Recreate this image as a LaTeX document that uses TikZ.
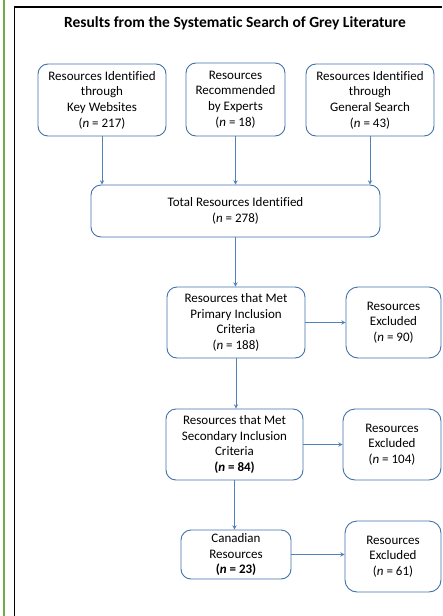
\documentclass[tikz,border=0pt]{standalone}
\usepackage{fontspec}
\setmainfont{Carlito}[Ligatures=NoCommon]
\usetikzlibrary{positioning}
\definecolor{boxblue}{RGB}{65,113,170}
\definecolor{arrowblue}{RGB}{79,129,189}
\definecolor{framegreen}{RGB}{112,173,71}

\begin{document}
\begin{tikzpicture}[x=1pt, y=-1pt, >=stealth,
    every node/.style={font=\fontsize{13}{15.7}\selectfont},
    flowbox/.style={draw=boxblue, line width=0.9pt, rounded corners=10pt, align=center, inner sep=0pt},
    flow/.style={->, draw=arrowblue, line width=0.9pt}]

    \useasboundingbox (0,0) rectangle (442,616);

    % page frame
    \draw[framegreen, line width=2pt] (4,0) -- (4,616);
    \draw[line width=1.3pt] (442,7) -- (14.5,7) -- (14.5,616);

    \node[font=\fontsize{15.5}{18}\selectfont\bfseries] (title) at (235,23) {Results from the Systematic Search of Grey Literature};

    % Top row nodes
    \node[flowbox, minimum width=128pt, minimum height=72pt] (keyweb) at (102,100)
        {Resources Identified\\through\\Key Websites\\(\textit{n} = 217)};
    \node[flowbox, minimum width=99pt, minimum height=73pt] (experts) at (235.5,99.5)
        {Resources\\Recommended\\by Experts\\(\textit{n} = 18)};
    \node[flowbox, minimum width=128pt, minimum height=72pt] (general) at (370,100)
        {Resources Identified\\through\\General Search\\(\textit{n} = 43)};

    % Main column
    \node[flowbox, minimum width=289pt, minimum height=52pt] (total) at (235.5,211)
        {Total Resources Identified\\(\textit{n} = 278)};
    \node[flowbox, minimum width=138pt, minimum height=71pt] (primary) at (236,322.5)
        {Resources that Met\\Primary Inclusion\\Criteria\\(\textit{n} = 188)};
    \node[flowbox, minimum width=137pt, minimum height=71pt] (secondary) at (234.5,444.5)
        {Resources that Met\\Secondary Inclusion\\Criteria\\\textbf{(\textit{n} = 84)}};
    \node[flowbox, minimum width=110pt, minimum height=49pt] (canadian) at (236,554.5)
        {Canadian\\Resources\\\textbf{(\textit{n} = 23)}};

    % Excluded column
    \node[flowbox, rounded corners=12pt, minimum width=95pt, minimum height=71pt] (excl1) at (393.5,322.5)
        {Resources\\Excluded\\(\textit{n} = 90)};
    \node[flowbox, rounded corners=12pt, minimum width=98pt, minimum height=71pt] (excl2) at (392,444.5)
        {Resources\\Excluded\\(\textit{n} = 104)};
    \node[flowbox, rounded corners=12pt, minimum width=96pt, minimum height=71pt] (excl3) at (393,556.5)
        {Resources\\Excluded\\(\textit{n} = 61)};

    % Arrows into the total
    \draw[flow] (keyweb.south) -- (keyweb.south |- total.north);
    \draw[flow] (experts.south) -- (experts.south |- total.north);
    \draw[flow] (general.south) -- (general.south |- total.north);

    % Arrows down the column
    \draw[flow] (total.south) -- (total.south |- primary.north);
    \draw[flow] (primary.south) -- (primary.south |- secondary.north);
    \draw[flow] (secondary.south) -- (secondary.south |- canadian.north);

    % Arrows to the excluded boxes
    \draw[flow] (primary.east) -- (excl1.west);
    \draw[flow] (secondary.east) -- (excl2.west);
    \draw[flow] (canadian.east) -- (canadian.east -| excl3.west);

\end{tikzpicture}
\end{document}
